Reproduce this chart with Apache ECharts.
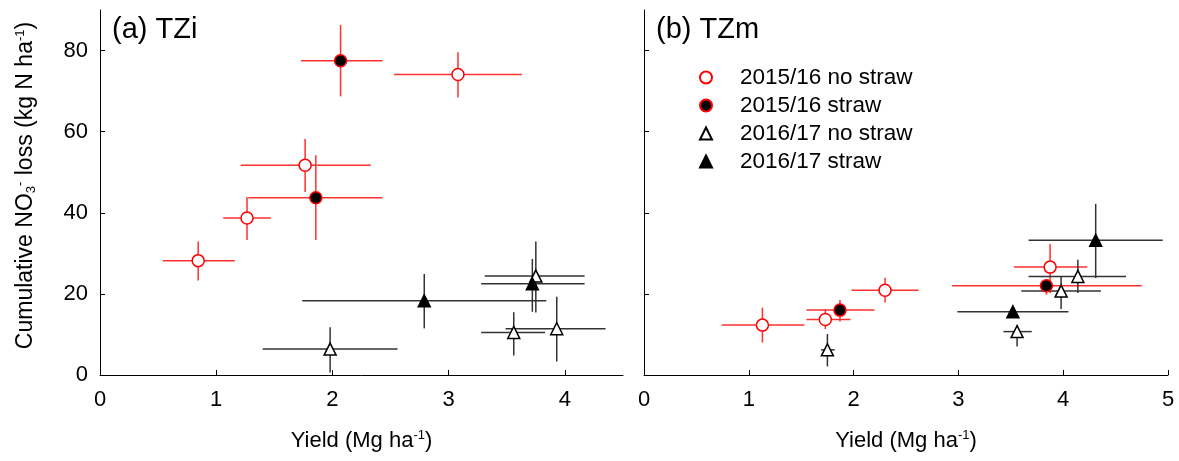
<!DOCTYPE html>
<html>
<head>
<meta charset="utf-8">
<script src="https://cdn.jsdelivr.net/npm/echarts@6/dist/echarts.min.js"></script>
<style>
html,body{margin:0;padding:0;background:#fff;}
#chart{width:1179px;height:461px;}
</style>
</head>
<body>
<div id="chart"></div>
<script>
// Each row: [yield, NO3 loss, yield low, yield high, loss low, loss high]
const seriesNames = ['2015/16 no straw', '2015/16 straw', '2016/17 no straw', '2016/17 straw'];
const panelTitles = ['(a) TZi', '(b) TZm'];
const xTicksA = [0, 1, 2, 3, 4];
const xTicksB = [0, 1, 2, 3, 4, 5];
const yTicks = [0, 20, 40, 60, 80];

const a_1516_noStraw = [
  [0.845, 28.2, 0.54, 1.16, 23.3, 32.9],
  [1.265, 38.7, 1.06, 1.47, 33.3, 43.9],
  [1.765, 51.7, 1.21, 2.33, 45.1, 58.2],
  [3.08, 74.1, 2.53, 3.63, 68.4, 79.6]
];
const a_1516_straw = [
  [2.07, 77.5, 1.73, 2.43, 68.7, 86.3],
  [1.857, 43.7, 1.275, 2.43, 33.3, 54.2]
];
const a_1617_noStraw = [
  [1.98, 6.4, 1.40, 2.56, 0.6, 11.8],
  [3.56, 10.5, 3.28, 3.83, 4.8, 15.5],
  [3.93, 11.4, 3.49, 4.35, 3.3, 19.3],
  [3.75, 24.4, 3.31, 4.17, 15.4, 32.9]
];
const a_1617_straw = [
  [2.79, 18.3, 1.74, 3.84, 11.5, 24.9],
  [3.72, 22.5, 3.28, 4.17, 15.6, 28.6]
];

const b_1516_noStraw = [
  [1.13, 12.3, 0.74, 1.53, 8.0, 16.6],
  [1.73, 13.7, 1.55, 1.97, 11.3, 16.2],
  [2.30, 20.9, 1.98, 2.62, 17.9, 24.0],
  [3.875, 26.6, 3.53, 4.23, 20.2, 32.3]
];
const b_1516_straw = [
  [1.87, 16.0, 1.55, 2.20, 13.2, 18.5],
  [3.84, 22.0, 2.94, 4.75, 19.8, 23.5]
];
const b_1617_noStraw = [
  [1.75, 6.2, 1.69, 1.82, 2.1, 10.1],
  [3.56, 10.7, 3.43, 3.70, 7.0, 12.3],
  [3.98, 20.7, 3.60, 4.36, 16.3, 24.3],
  [4.14, 24.3, 3.67, 4.60, 20.2, 28.4]
];
const b_1617_straw = [
  [3.52, 15.6, 2.99, 4.05, 14.2, 16.9],
  [4.31, 33.2, 3.67, 4.95, 23.9, 42.2]
];

const FONT = '"Liberation Sans", Arial, sans-serif';
const RED = '#ff0000';
const BAR_RED = '#ff3030';
const BAR_BLACK = '#333333';
const FS = 22;

const styles = [
  {symbol: 'circle', size: 12, color: '#ffffff', border: RED, bar: BAR_RED},
  {symbol: 'circle', size: 12, color: '#000000', border: RED, bar: BAR_RED},
  {symbol: 'triangle', size: 12, color: '#ffffff', border: '#000000', bar: BAR_BLACK},
  {symbol: 'triangle', size: 12, color: '#000000', border: '#000000', bar: BAR_BLACK}
];

function errorSeries(data, idx, st, name) {
  return {
    type: 'custom',
    name: name,
    xAxisIndex: idx, yAxisIndex: idx,
    data: data,
    z: 2,
    silent: true,
    encode: {x: 0, y: 1},
    renderItem: function (params, api) {
      const y = api.value(1), x = api.value(0);
      const l = api.coord([api.value(2), y]);
      const r = api.coord([api.value(3), y]);
      const b = api.coord([x, api.value(4)]);
      const t = api.coord([x, api.value(5)]);
      const s = {stroke: st.bar, lineWidth: 1.5};
      return {
        type: 'group',
        children: [
          {type: 'line', shape: {x1: l[0], y1: l[1], x2: r[0], y2: r[1]}, style: s},
          {type: 'line', shape: {x1: b[0], y1: b[1], x2: t[0], y2: t[1]}, style: s}
        ]
      };
    }
  };
}
function pointSeries(data, idx, st, name) {
  return {
    type: 'scatter',
    name: name,
    xAxisIndex: idx, yAxisIndex: idx,
    data: data.map(d => [d[0], d[1]]),
    symbol: st.symbol,
    symbolSize: st.size,
    z: 5,
    itemStyle: {color: st.color, borderColor: st.border, borderWidth: 1.5, opacity: 1}
  };
}

const panels = [
  [a_1516_noStraw, a_1516_straw, a_1617_noStraw, a_1617_straw],
  [b_1516_noStraw, b_1516_straw, b_1617_noStraw, b_1617_straw]
];
const series = [];
panels.forEach((p, idx) => {
  p.forEach((d, k) => series.push(errorSeries(d, idx, styles[k], seriesNames[k] + ' err')));
});
panels.forEach((p, idx) => {
  p.forEach((d, k) => series.push(pointSeries(d, idx, styles[k], seriesNames[k])));
});

const axisCommon = {
  axisLine: {show: true, lineStyle: {color: '#000', width: 1}},
  splitLine: {show: false},
  axisTick: {show: true, inside: true, length: 5, lineStyle: {color: '#000'}},
  axisLabel: {color: '#000', fontFamily: FONT, fontSize: FS}
};

const supStyle = {fontSize: 13, verticalAlign: 'top', padding: [0, 0, 11, 0], fontFamily: FONT, color: '#000'};
const subStyle = {fontSize: 13, verticalAlign: 'bottom', padding: [11, 0, 0, 0], fontFamily: FONT, color: '#000'};

const xName = {
  name: 'Yield (Mg ha{sup|-1})',
  nameLocation: 'middle',
  nameGap: 54,
  nameTextStyle: {
    color: '#000', fontFamily: FONT, fontSize: FS,
    rich: {sup: supStyle}
  }
};

const option = {
  backgroundColor: '#ffffff',
  animation: false,
  title: [
    {text: panelTitles[0], left: 107, top: 10, textStyle: {fontFamily: FONT, fontSize: 29, fontWeight: 'normal', color: '#000'}},
    {text: panelTitles[1], left: 651, top: 10, textStyle: {fontFamily: FONT, fontSize: 29, fontWeight: 'normal', color: '#000'}}
  ],
  legend: {
    data: seriesNames,
    orient: 'vertical',
    left: 694,
    top: 61,
    itemWidth: 12,
    itemHeight: 12,
    itemGap: 5,
    selectedMode: false,
    textStyle: {fontFamily: FONT, fontSize: 22.5, color: '#000', padding: [0, 0, 0, 23]}
  },
  grid: [
    {left: 100, top: 10, width: 523, height: 365},
    {left: 644, top: 10, width: 524, height: 365}
  ],
  xAxis: [
    Object.assign({}, axisCommon, xName, {
      type: 'value', gridIndex: 0, min: 0, max: 4.5,
      axisTick: Object.assign({}, axisCommon.axisTick, {customValues: xTicksA}),
      axisLabel: Object.assign({}, axisCommon.axisLabel, {customValues: xTicksA, margin: 14})
    }),
    Object.assign({}, axisCommon, xName, {
      type: 'value', gridIndex: 1, min: 0, max: 5, interval: 1,
      axisTick: Object.assign({}, axisCommon.axisTick, {customValues: xTicksB}),
      axisLabel: Object.assign({}, axisCommon.axisLabel, {customValues: xTicksB, margin: 14})
    })
  ],
  yAxis: [
    Object.assign({}, axisCommon, {
      type: 'value', gridIndex: 0, min: 0, max: 90,
      axisTick: Object.assign({}, axisCommon.axisTick, {customValues: yTicks}),
      axisLabel: Object.assign({}, axisCommon.axisLabel, {customValues: yTicks, margin: 12}),
      name: 'Cumulative NO{sub|3}{sup|-} loss (kg N ha{sup|-1})',
      nameLocation: 'middle',
      nameGap: 62,
      nameTextStyle: {
        color: '#000', fontFamily: FONT, fontSize: 23,
        padding: [0, 0, 0, 14],
        rich: {sup: supStyle, sub: subStyle}
      }
    }),
    Object.assign({}, axisCommon, {
      type: 'value', gridIndex: 1, min: 0, max: 90,
      axisTick: Object.assign({}, axisCommon.axisTick, {customValues: yTicks}),
      axisLabel: {show: false}
    })
  ],
  series: series
};

const chart = echarts.init(document.getElementById('chart'), null, {renderer: 'canvas'});
chart.setOption(option);
</script>
</body>
</html>
